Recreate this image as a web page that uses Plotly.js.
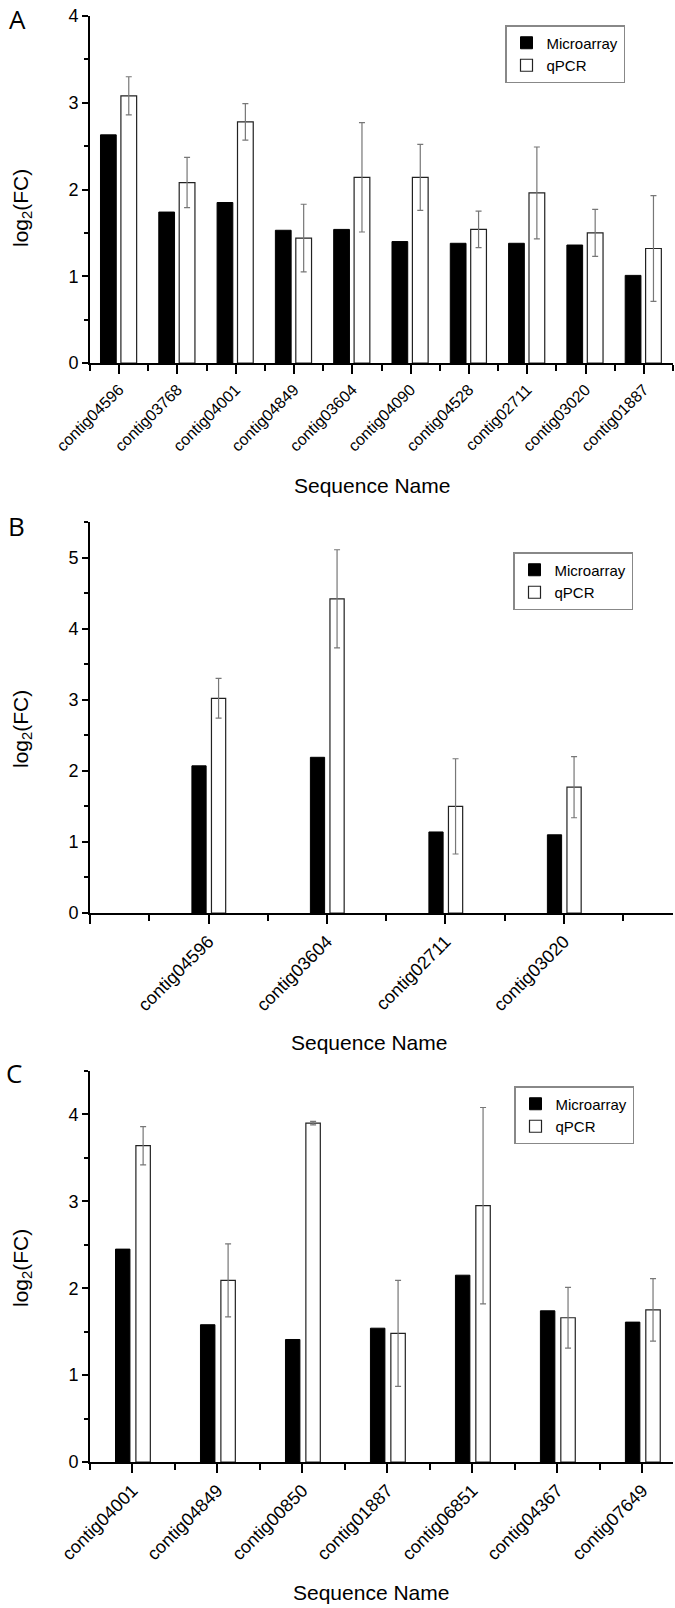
<!DOCTYPE html>
<html lang="en">
<head>
    <meta charset="UTF-8">
    <title>log2(FC) Microarray vs qPCR</title>
    <script src="https://cdn.plot.ly/plotly-3.0.1.min.js"></script>
    <style>
        body {
            margin: 0;
            padding: 0;
            background: #fff;
        }
        #chart {
            width: 675px;
            height: 1608px;
        }
    </style>
</head>
<body>
<div id="chart"></div>
<script>
// Panel A
const namesA = ['contig04596', 'contig03768', 'contig04001', 'contig04849', 'contig03604',
                'contig04090', 'contig04528', 'contig02711', 'contig03020', 'contig01887'];
const microA = [2.63, 1.74, 1.85, 1.53, 1.54, 1.40, 1.38, 1.38, 1.36, 1.01];
const qpcrA  = [3.08, 2.08, 2.78, 1.44, 2.14, 2.14, 1.54, 1.96, 1.50, 1.32];
const errA   = [0.22, 0.29, 0.21, 0.39, 0.63, 0.38, 0.21, 0.53, 0.27, 0.61];

// Panel B
const namesB = ['contig04596', 'contig03604', 'contig02711', 'contig03020'];
const microB = [2.07, 2.19, 1.14, 1.10];
const qpcrB  = [3.02, 4.42, 1.50, 1.77];
const errB   = [0.28, 0.69, 0.67, 0.43];

// Panel C
const namesC = ['contig04001', 'contig04849', 'contig00850', 'contig01887',
                'contig06851', 'contig04367', 'contig07649'];
const microC = [2.45, 1.58, 1.41, 1.54, 2.15, 1.74, 1.61];
const qpcrC  = [3.64, 2.09, 3.90, 1.48, 2.95, 1.66, 1.75];
const errC   = [0.22, 0.42, 0.02, 0.61, 1.13, 0.35, 0.36];

const W = 675, H = 1608;
const FONT = '"Liberation Sans", Arial, sans-serif';

// pixel helpers -> paper fractions
const px = v => v / W;
const py = v => 1 - v / H;

function barPair(names, micro, qpcr, err, n, opts) {
    const xs = names.map((_, i) => i);
    const xa = n === 1 ? 'x' : 'x' + n;
    const ya = n === 1 ? 'y' : 'y' + n;
    const lg = n === 1 ? 'legend' : 'legend' + n;
    return [
        {
            type: 'bar', name: 'Microarray', x: xs, y: micro,
            xaxis: xa, yaxis: ya, legend: lg,
            width: opts.width, offset: opts.offBlack,
            marker: { color: '#000', line: { color: '#000', width: 1 } }
        },
        {
            type: 'bar', name: 'qPCR', x: xs, y: qpcr,
            xaxis: xa, yaxis: ya, legend: lg,
            width: opts.width, offset: opts.offWhite,
            marker: { color: '#fff', line: { color: '#222', width: 1.2 } },
            error_y: { type: 'data', array: err, visible: true, color: '#777', thickness: 1.2, width: 3 }
        }
    ];
}

const data = [].concat(
    barPair(namesA, microA, qpcrA, errA, 1, { width: 0.27, offBlack: -0.32, offWhite: 0.03 }),
    barPair(namesB, microB, qpcrB, errB, 2, { width: 0.12, offBlack: -0.14, offWhite: 0.025 }),
    barPair(namesC, microC, qpcrC, errC, 3, { width: 0.17, offBlack: -0.2, offWhite: 0.04 })
);

function xAxis(names, range, lead, fontSize, yref) {
    const vals = [];
    const text = [];
    for (let i = 0; i < lead; i++) { vals.push(-lead + i); text.push(' '); }
    names.forEach((nm, i) => { vals.push(i); text.push(nm); });
    return {
        domain: [px(90), px(673)],
        anchor: yref,
        range: range,
        tickmode: 'array',
        tickvals: vals,
        ticktext: text,
        tickangle: -45,
        ticks: 'outside',
        ticklen: 9,
        tickwidth: 2,
        tickcolor: '#000',
        tickfont: { family: FONT, size: fontSize, color: '#000' },
        minor: { ticks: 'outside', tickmode: 'linear', tick0: 0.5, dtick: 1, ticklen: 6, tickwidth: 2, tickcolor: '#000' },
        showline: true,
        linecolor: '#000',
        linewidth: 2,
        showgrid: false,
        zeroline: false,
        fixedrange: true
    };
}

function yAxis(range, top, bottom, xref) {
    return {
        domain: [py(bottom), py(top)],
        anchor: xref,
        range: range,
        tickmode: 'linear',
        tick0: 0,
        dtick: 1,
        ticks: 'outside',
        ticklen: 6,
        tickwidth: 2,
        tickcolor: '#000',
        tickfont: { family: FONT, size: 18, color: '#000' },
        minor: { ticks: 'outside', dtick: 0.5, ticklen: 4, tickwidth: 2, tickcolor: '#000' },
        showline: true,
        linecolor: '#000',
        linewidth: 2,
        showgrid: false,
        zeroline: false,
        fixedrange: true
    };
}

function legendAt(left, top) {
    return {
        x: px(left), y: py(top), xanchor: 'left', yanchor: 'top',
        bgcolor: '#fff', bordercolor: '#888', borderwidth: 1.5,
        font: { family: FONT, size: 15, color: '#000' },
        tracegroupgap: 0, itemwidth: 30
    };
}

const annFont = { family: FONT, size: 21, color: '#000' };
const letterFont = { family: '"Open Sans", "DejaVu Sans", sans-serif', size: 26, color: '#000' };

function textAt(text, x, y, font, angle) {
    return {
        text: text, xref: 'paper', yref: 'paper', x: px(x), y: py(y),
        xanchor: 'center', yanchor: 'middle', showarrow: false,
        font: font, textangle: angle || 0
    };
}

const layout = {
    width: W,
    height: H,
    margin: { l: 0, r: 0, t: 0, b: 0 },
    paper_bgcolor: '#fff',
    plot_bgcolor: '#fff',
    barmode: 'overlay',
    showlegend: true,
    xaxis:  xAxis(namesA, [-0.5, 9.5], 0, 16, 'y'),
    yaxis:  yAxis([0, 4], 16, 363, 'x'),
    xaxis2: xAxis(namesB, [-1, 3.92], 1, 18, 'y2'),
    yaxis2: yAxis([0, 5.5], 522, 913, 'x2'),
    xaxis3: xAxis(namesC, [-0.5, 6.36], 0, 18, 'y3'),
    yaxis3: yAxis([0, 4.5], 1071, 1462, 'x3'),
    legend:  legendAt(505, 25),
    legend2: legendAt(513, 552),
    legend3: legendAt(514, 1086),
    annotations: [
        textAt('A', 17, 19, letterFont),
        textAt('B', 16, 526, letterFont),
        textAt('C', 14, 1073, letterFont),
        textAt('log<sub>2</sub>(FC)', 22, 208, annFont, -90),
        textAt('log<sub>2</sub>(FC)', 22, 729, annFont, -90),
        textAt('log<sub>2</sub>(FC)', 22, 1268, annFont, -90),
        textAt('Sequence Name', 372, 485, annFont),
        textAt('Sequence Name', 369, 1042, annFont),
        textAt('Sequence Name', 371, 1592, annFont)
    ]
};

Plotly.newPlot('chart', data, layout, { displayModeBar: false, staticPlot: true });
</script>
</body>
</html>
